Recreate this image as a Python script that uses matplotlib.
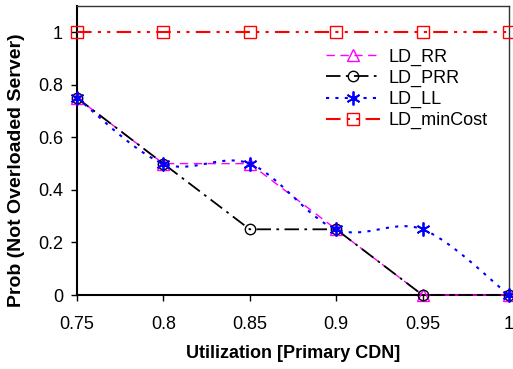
import matplotlib
matplotlib.use("Agg")
import matplotlib.pyplot as plt
import numpy as np

plt.rcParams['font.family'] = ['Liberation Sans', 'DejaVu Sans']

utilization = [0.75, 0.8, 0.85, 0.9, 0.95, 1.0]
ld_rr = [0.75, 0.5, 0.5, 0.25, 0.0, 0.0]
ld_prr = [0.75, 0.5, 0.25, 0.25, 0.0, 0.0]
ld_ll = [0.75, 0.5, 0.5, 0.25, 0.25, 0.0]
ld_mincost = [1, 1, 1, 1, 1, 1]
x_ticks = [0.75, 0.8, 0.85, 0.9, 0.95, 1]
y_ticks = [0, 0.2, 0.4, 0.6, 0.8, 1]


def smooth(x, y, n=30):
    # Excel-like smoothed line (Catmull-Rom Bezier through points)
    x = np.asarray(x, float); y = np.asarray(y, float)
    px = np.concatenate([[x[0]], x, [x[-1]]])
    py = np.concatenate([[y[0]], y, [y[-1]]])
    xs, ys = [], []
    t = np.linspace(0, 1, n)
    for i in range(1, len(px) - 2):
        p0 = np.array([px[i], py[i]]); p3 = np.array([px[i + 1], py[i + 1]])
        p1 = p0 + (np.array([px[i + 1], py[i + 1]]) - np.array([px[i - 1], py[i - 1]])) / 6
        p2 = p3 - (np.array([px[i + 2], py[i + 2]]) - np.array([px[i], py[i]])) / 6
        b = ((1 - t) ** 3)[:, None] * p0 + (3 * (1 - t) ** 2 * t)[:, None] * p1 \
            + (3 * (1 - t) * t ** 2)[:, None] * p2 + (t ** 3)[:, None] * p3
        xs.extend(b[:, 0]); ys.extend(b[:, 1])
    return np.array(xs), np.array(ys)


fig = plt.figure(figsize=(5.13, 3.69), dpi=100)
ax = fig.add_axes([0.150, 0.2005, 0.842, 0.7835])

ax.plot(utilization, ld_rr, color='#ff00ff', linestyle=(0, (6, 4)), linewidth=1.0,
        marker='^', markersize=8, markerfacecolor='none', markeredgecolor='#ff00ff',
        label='LD_RR', zorder=3)
ax.plot(utilization, ld_prr, color='black', linestyle=(0, (8, 3, 1.5, 3)), linewidth=1.3,
        marker='o', markersize=7.5, markerfacecolor='none', markeredgecolor='black',
        label='LD_PRR', zorder=3)
sx, sy = smooth(utilization, ld_ll)
ax.plot(sx, sy, color='#0000ff', linestyle=(0, (1.5, 3)), linewidth=1.5, zorder=4)
ax.plot(utilization, ld_ll, color='#0000ff', linestyle='none',
        marker=(6, 2, 0), markersize=10, markeredgewidth=1.3, zorder=4)
ax.plot([], [], color='#0000ff', linestyle=(0, (1.5, 3)), linewidth=1.5,
        marker=(6, 2, 0), markersize=10, markeredgewidth=1.3, label='LD_LL')
ax.plot(utilization, ld_mincost, color='#ff0000', linestyle=(0, (7, 3, 1.5, 3, 1.5, 3)),
        linewidth=1.5, marker='s', markersize=8, markerfacecolor='none',
        markeredgecolor='#ff0000', label='LD_minCost', zorder=3)

ax.set_xlim(0.75, 1.0)
ax.set_ylim(0, 1.1)
ax.set_xticks(x_ticks)
ax.set_xticklabels(['0.75', '0.8', '0.85', '0.9', '0.95', '1'])
ax.set_yticks(y_ticks)
ax.set_yticklabels(['0', '0.2', '0.4', '0.6', '0.8', '1'])
ax.tick_params(axis='both', labelsize=13, length=4, width=1, direction='out')
ax.tick_params(axis='x', pad=11)
ax.tick_params(axis='y', pad=6)
for s in ax.spines.values():
    s.set_linewidth(1.0)
    s.set_color('#333333')
ax.spines['left'].set_linewidth(1.5)
ax.spines['bottom'].set_linewidth(1.5)
ax.spines['left'].set_color('black')
ax.spines['bottom'].set_color('black')

ax.set_xlabel('Utilization [Primary CDN]', fontsize=13, fontweight='bold', labelpad=9)
ax.set_ylabel('Prob (Not Overloaded Server)', fontsize=14, fontweight='bold')
ax.yaxis.set_label_coords(-0.12, 0.433)

for line in ax.lines:
    line.set_clip_on(False)

ax.legend(loc='upper left', bbox_to_anchor=(0.547, 0.896), frameon=False, fontsize=13,
          handlelength=3.0, labelspacing=0.22, handletextpad=0.45,
          borderaxespad=0.3)

fig.savefig('out.png', dpi=100)
